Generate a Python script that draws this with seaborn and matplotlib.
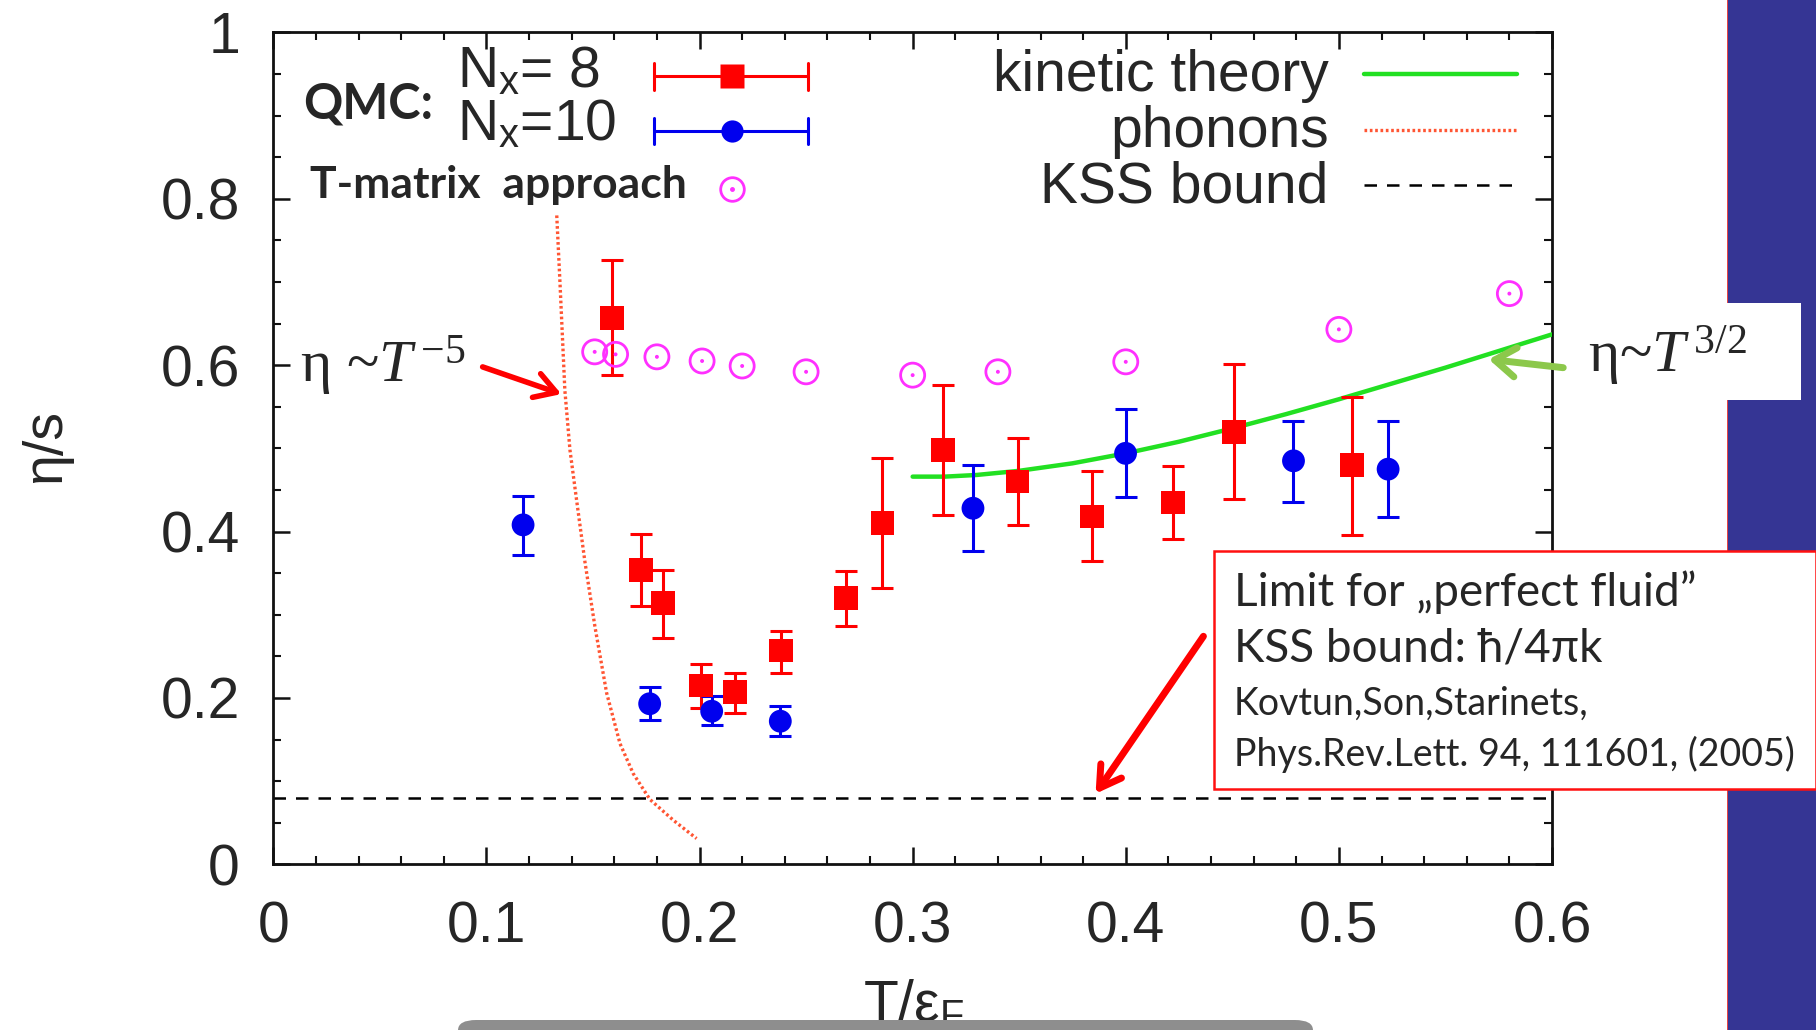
import numpy as np
import pandas as pd
import matplotlib
matplotlib.use("Agg")
import matplotlib.pyplot as plt
import seaborn as sns
from matplotlib import font_manager
from matplotlib.patches import Rectangle, FancyBboxPatch, FancyArrowPatch
from matplotlib.lines import Line2D
from matplotlib.ticker import MultipleLocator, FuncFormatter

# ---------------- data ----------------
qmc8_T = [0.159, 0.1726, 0.1828, 0.2008, 0.2167, 0.2382, 0.2688, 0.2858, 0.3142,
          0.3492, 0.3841, 0.4222, 0.4507, 0.5061]
qmc8_eta = [0.657, 0.354, 0.314, 0.215, 0.207, 0.257, 0.320, 0.410, 0.498,
            0.460, 0.418, 0.435, 0.520, 0.480]
qmc8_lo = [0.588, 0.310, 0.272, 0.188, 0.182, 0.230, 0.287, 0.332, 0.420,
           0.408, 0.365, 0.391, 0.439, 0.396]
qmc8_hi = [0.726, 0.397, 0.354, 0.241, 0.230, 0.281, 0.353, 0.488, 0.576,
           0.513, 0.473, 0.479, 0.601, 0.562]

qmc10_T = [0.1172, 0.1766, 0.2057, 0.2379, 0.3283, 0.3999, 0.4787, 0.5231]
qmc10_eta = [0.408, 0.193, 0.184, 0.172, 0.428, 0.494, 0.485, 0.475]
qmc10_lo = [0.372, 0.174, 0.168, 0.154, 0.377, 0.442, 0.436, 0.417]
qmc10_hi = [0.443, 0.213, 0.202, 0.190, 0.480, 0.547, 0.533, 0.533]

tmat_T = [0.1508, 0.1606, 0.180, 0.2012, 0.220, 0.250, 0.300, 0.340, 0.400, 0.500, 0.580]
tmat_eta = [0.616, 0.613, 0.610, 0.605, 0.599, 0.592, 0.588, 0.592, 0.604, 0.643, 0.686]

kin_T = [0.300, 0.315, 0.330, 0.350, 0.375, 0.400, 0.425, 0.450, 0.475, 0.500,
         0.525, 0.550, 0.575, 0.600]
kin_eta = [0.466, 0.466, 0.468, 0.473, 0.482, 0.494, 0.508, 0.524, 0.541, 0.559,
           0.578, 0.597, 0.617, 0.637]

phon_T = [0.1330, 0.1345, 0.1368, 0.1392, 0.1423, 0.1462, 0.1509, 0.1564, 0.1627,
          0.1689, 0.1767, 0.1877, 0.1986]
phon_eta = [0.780, 0.700, 0.570, 0.498, 0.438, 0.364, 0.286, 0.206, 0.145,
            0.109, 0.078, 0.053, 0.031]

kss_value = 0.0796
kss_T = [0.0, 0.6]

x_ticks = [0, 0.1, 0.2, 0.3, 0.4, 0.5, 0.6]
y_ticks = [0, 0.2, 0.4, 0.6, 0.8, 1.0]

# ---------------- style ----------------
sns.set_theme(style="ticks")
names = {f.name for f in font_manager.fontManager.ttflist}
SANS = "Liberation Sans" if "Liberation Sans" in names else "DejaVu Sans"
SERIF = "Liberation Serif" if "Liberation Serif" in names else "DejaVu Serif"
CAL = "Lato" if "Lato" in names else "Open Sans"
plt.rcParams["font.family"] = [SANS, "DejaVu Sans"]
plt.rcParams["mathtext.fontset"] = "custom"
plt.rcParams["mathtext.rm"] = SERIF
plt.rcParams["mathtext.it"] = SERIF + ":italic"
plt.rcParams["mathtext.bf"] = SERIF + ":bold"
plt.rcParams["mathtext.sf"] = SANS

W, H = 1816, 1030
fig = plt.figure(figsize=(W / 100, H / 100), dpi=100)
fig.patch.set_facecolor("white")

# blue side panel
fig.patches.append(Rectangle((1728 / W, 0), 1 - 1728 / W, 1, transform=fig.transFigure,
                             facecolor="#353594", edgecolor="none", zorder=0))
fig.lines.append(Line2D([1728 / W, 1728 / W], [0, 1], transform=fig.transFigure,
                        color="#e02020", lw=1.2, zorder=0))

x0, x1 = 273.3, 1552.0
ytop, ybot = 32.4, 864.3
ax = fig.add_axes([x0 / W, 1 - ybot / H, (x1 - x0) / W, (ybot - ytop) / H])
ax.set_facecolor("white")

RED = "#ff0000"
BLUE = "#0000ee"
MAG = "#ff30ff"
GREEN = "#22e022"
PHON = "#ff5533"

# lines
kin_df = pd.DataFrame({"T": kin_T, "eta": kin_eta})
sns.lineplot(data=kin_df, x="T", y="eta", ax=ax, color=GREEN, lw=3.2,
             sort=False, estimator=None, zorder=3)
phon_df = pd.DataFrame({"T": phon_T, "eta": phon_eta})
sns.lineplot(data=phon_df, x="T", y="eta", ax=ax, color=PHON, lw=2.4,
             linestyle=(0, (0.8, 0.8)), sort=False, estimator=None, zorder=3)
kss_df = pd.DataFrame({"T": kss_T, "eta": [kss_value, kss_value]})
sns.lineplot(data=kss_df, x="T", y="eta", ax=ax, color="black", lw=1.8,
             linestyle=(0, (5, 4)), estimator=None, zorder=2)

# error bars
e8 = np.array([np.array(qmc8_eta) - np.array(qmc8_lo), np.array(qmc8_hi) - np.array(qmc8_eta)])
ax.errorbar(qmc8_T, qmc8_eta, yerr=e8, fmt="none", ecolor=RED, elinewidth=2.2,
            capsize=8, capthick=2.2, zorder=4)
e10 = np.array([np.array(qmc10_eta) - np.array(qmc10_lo), np.array(qmc10_hi) - np.array(qmc10_eta)])
ax.errorbar(qmc10_T, qmc10_eta, yerr=e10, fmt="none", ecolor=BLUE, elinewidth=2.2,
            capsize=8, capthick=2.2, zorder=4)

# markers
d8 = pd.DataFrame({"T": qmc8_T, "eta": qmc8_eta})
sns.scatterplot(data=d8, x="T", y="eta", ax=ax, marker="s", s=290, color=RED,
                edgecolor="none", linewidth=0, zorder=5)
d10 = pd.DataFrame({"T": qmc10_T, "eta": qmc10_eta})
sns.scatterplot(data=d10, x="T", y="eta", ax=ax, marker="o", s=270, color=BLUE,
                edgecolor="none", linewidth=0, zorder=5)
dt = pd.DataFrame({"T": tmat_T, "eta": tmat_eta})
sns.scatterplot(data=dt, x="T", y="eta", ax=ax, marker="o", s=300, facecolor="none",
                edgecolor=MAG, linewidth=2.0, zorder=5)
sns.scatterplot(data=dt, x="T", y="eta", ax=ax, marker="o", s=8, color=MAG,
                edgecolor="none", linewidth=0, zorder=5)

# axes
ax.set_xlim(0, 0.6)
ax.set_ylim(0, 1)
ax.set_xticks(x_ticks)
ax.set_yticks(y_ticks)
ax.xaxis.set_minor_locator(MultipleLocator(0.02))
ax.yaxis.set_minor_locator(MultipleLocator(0.05))
fmt = FuncFormatter(lambda v, p: "%g" % round(v, 3))
ax.xaxis.set_major_formatter(fmt)
ax.yaxis.set_major_formatter(fmt)
for s in ax.spines.values():
    s.set_visible(True)
    s.set_linewidth(2.0)
    s.set_color("#111111")
ax.tick_params(which="both", direction="in", top=True, right=True, color="#111111")
ax.tick_params(which="major", length=12, width=1.8, labelsize=41)
ax.tick_params(axis="y", which="major", pad=24)
ax.tick_params(axis="x", which="major", pad=26)
ax.tick_params(which="minor", length=6, width=1.5)
ax.set_xlabel("")
ax.set_ylabel("")
ax.grid(False)

fig.text(46 / W, 1 - 446 / H, "η/s", rotation=90, ha="center", va="center", fontsize=40)
fig.text(914 / W, 1 - 1006 / H, "T/ε$_\\mathsf{F}$", ha="center", va="center", fontsize=41)

# bottom grey shape
fig.patches.append(FancyBboxPatch((458 / W, -30 / H), 855 / W, 40 / H,
                                  boxstyle="round,pad=0,rounding_size=0.010",
                                  transform=fig.transFigure, facecolor="#8e8e8e",
                                  edgecolor="none", zorder=10))

# ---------- legend (drawn manually in axes coords) ----------
tA = ax.transAxes
def ax_xy(px, py):
    # preview coords (1568 wide) -> axes fraction
    return (px - 236) / 1104.0, (746 - py) / 718.0

lx0, _ = ax_xy(565, 0)
lx1, _ = ax_xy(698, 0)
lxc, _ = ax_xy(632, 0)
for py, col, mk, ms in [(66, RED, "s", 17), (113, BLUE, "o", 16)]:
    _, yy = ax_xy(0, py)
    ax.add_line(Line2D([lx0, lx1], [yy, yy], transform=tA, color=col, lw=2.2, zorder=6))
    for xx in (lx0, lx1):
        ax.add_line(Line2D([xx, xx], [yy - 0.016, yy + 0.016], transform=tA, color=col,
                           lw=2.2, zorder=6))
    ax.add_line(Line2D([lxc], [yy], transform=tA, marker=mk, ms=ms, color=col,
                       mec="none", lw=0, zorder=7))
_, yy = ax_xy(0, 163)
ax.add_line(Line2D([lxc], [yy], transform=tA, marker="o", ms=17, mfc="none", mec=MAG,
                   mew=2.0, lw=0, zorder=7))
ax.add_line(Line2D([lxc], [yy], transform=tA, marker="o", ms=2.5, color=MAG, lw=0, zorder=7))

tx, ty = ax_xy(395, 62)
ax.text(tx, ty, "N$_\\mathsf{x}$= 8", transform=tA, fontsize=41, ha="left", va="center")
tx, ty = ax_xy(395, 108)
ax.text(tx, ty, "N$_\\mathsf{x}$=10", transform=tA, fontsize=41, ha="left", va="center")
tx, ty = ax_xy(262, 90)
ax.text(tx, ty, "QMC:", transform=tA, fontsize=35, fontweight="bold", family=CAL,
        ha="left", va="center")
tx, ty = ax_xy(268, 160)
ax.text(tx, ty, "T-matrix  approach", transform=tA, fontsize=32, fontweight="bold",
        family=CAL, ha="left", va="center")

rx, _ = ax_xy(1147, 0)
ra, _ = ax_xy(1178, 0)
rb, _ = ax_xy(1310, 0)
for py, label, col, ls, lw in [(66, "kinetic theory", GREEN, "-", 3.2),
                               (114, "phonons", PHON, (0, (0.8, 0.8)), 2.4),
                               (162, "KSS bound", "black", (0, (5, 4)), 1.8)]:
    _, yy = ax_xy(0, py)
    ax.text(rx, yy, label, transform=tA, fontsize=41, ha="right", va="center")
    ax.add_line(Line2D([ra, rb], [yy + 0.003, yy + 0.003], transform=tA, color=col, lw=lw,
                       linestyle=ls, zorder=6))

# ---------- annotations ----------
fig.text(300 / W, 1 - 366 / H, "η ~$\\mathit{T}^{\\,\\mathrm{-5}}$", fontsize=43,
         family=SERIF, ha="left", va="center")
fig.add_artist(FancyArrowPatch(
    (480 / W, 1 - 366 / H), (564 / W, 1 - 395 / H), transform=fig.transFigure,
    arrowstyle="->,head_length=0.5,head_width=0.3", mutation_scale=30, color="#ff0000",
    lw=4, zorder=8))

# eta ~ T^{3/2} box
fig.patches.append(Rectangle((1569 / W, 1 - 400 / H), (1801 - 1569) / W, (400 - 303) / H,
                             transform=fig.transFigure, facecolor="white", edgecolor="none",
                             zorder=5))
fig.text(1588 / W, 1 - 356 / H, "η~$\\mathit{T}^{\\,\\mathrm{3/2}}$", fontsize=43,
         family=SERIF, ha="left", va="center", zorder=6)
fig.add_artist(FancyArrowPatch(
    (1566 / W, 1 - 368 / H), (1486 / W, 1 - 359 / H), transform=fig.transFigure,
    arrowstyle="->,head_length=0.5,head_width=0.35", mutation_scale=30, color="#8cc84b",
    lw=5, zorder=8))

# KSS text box
fig.patches.append(Rectangle((1214 / W, 1 - 789 / H), (1816 - 1214) / W, (789 - 551) / H,
                             transform=fig.transFigure, facecolor="white", edgecolor="#ff1010",
                             lw=1.8, zorder=7))
box_lines = [("Limit for „perfect fluid”", 592, 33),
             ("KSS bound: ħ/4πk", 649, 33),
             ("Kovtun,Son,Starinets,", 704, 27),
             ("Phys.Rev.Lett. 94, 111601, (2005)", 754, 27)]
for s, py, fs in box_lines:
    fig.text(1234 / W, 1 - py / H, s, fontsize=fs, family=[CAL, "DejaVu Sans"],
             ha="left", va="center", zorder=8)
fig.add_artist(FancyArrowPatch(
    (1205 / W, 1 - 634 / H), (1094 / W, 1 - 796 / H), transform=fig.transFigure,
    arrowstyle="->,head_length=0.5,head_width=0.3", mutation_scale=30, color="#ff0000",
    lw=5, zorder=8))

fig.savefig("out.png", dpi=100, facecolor="white")
